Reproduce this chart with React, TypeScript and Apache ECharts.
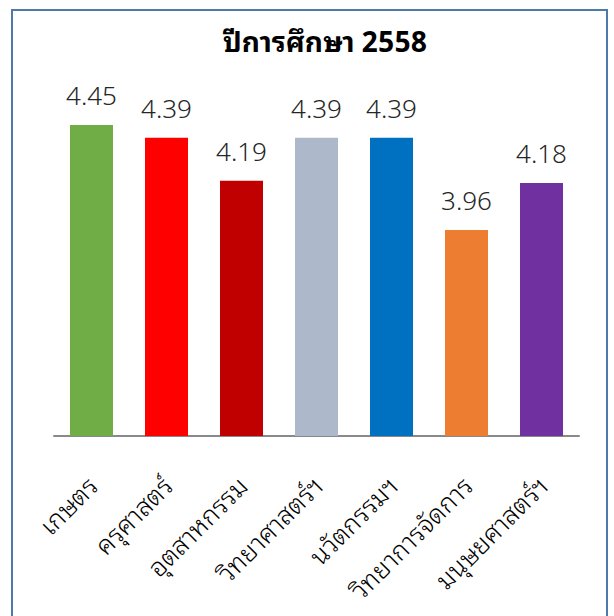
import React, { useEffect, useRef } from "react";
import * as echarts from "echarts";

const categories = [
  "เกษตร",
  "ครุศาสตร์",
  "อุตสาหกรรม",
  "วิทยาศาสตร์ฯ",
  "นวัตกรรมฯ",
  "วิทยาการจัดการ",
  "มนุษยศาสตร์ฯ",
];
const values = [4.45, 4.39, 4.19, 4.39, 4.39, 3.96, 4.18];
const barColors = ["#70ad47", "#ff0000", "#c00000", "#adb9ca", "#0070c0", "#ed7d31", "#7030a0"];
const titleText = "ปีการศึกษา 2558";

const THAI = "'Noto Sans Thai Looped', 'Noto Sans Thai', sans-serif";
const NUM = "'Noto Sans', 'Open Sans', sans-serif";

export default function App() {
  const ref = useRef<HTMLDivElement>(null);
  useEffect(() => {
    if (!ref.current) return;
    const chart = echarts.init(ref.current, undefined, { renderer: "svg" });
    chart.setOption({
      animation: false,
      backgroundColor: "#ffffff",
      graphic: [
        {
          type: "rect",
          shape: { x: 12, y: 10, width: 595, height: 640 },
          style: { fill: "none", stroke: "#4f79a8", lineWidth: 2 },
          silent: true,
        },
        {
          type: "text",
          x: 325,
          y: 39,
          style: {
            text: titleText,
            fill: "#000000",
            font: `bold 28px ${THAI}`,
            align: "center",
            verticalAlign: "middle",
          },
        },
      ],
      grid: { left: 54, right: 35, top: 7, bottom: 180, containLabel: false },
      xAxis: {
        type: "category",
        data: categories,
        axisLine: { show: true, lineStyle: { color: "#898989", width: 2 } },
        axisTick: { show: false },
        axisLabel: {
          rotate: 45,
          interval: 0,
          margin: 44,
          fontSize: 26,
          fontWeight: 300,
          color: "#000000",
          fontFamily: THAI,
        },
      },
      yAxis: {
        type: "value",
        min: 3,
        max: 5,
        show: false,
        splitLine: { show: false },
      },
      series: [
        {
          type: "bar",
          barWidth: 43,
          data: values.map((v, i) => ({ value: v, itemStyle: { color: barColors[i] } })),
          label: {
            show: true,
            position: "top",
            distance: 17,
            fontSize: 26,
            fontWeight: 300,
            color: "#262626",
            fontFamily: NUM,
            formatter: (p: any) => p.value.toFixed(2),
          },
        },
      ],
    });
    return () => chart.dispose();
  }, []);
  return (
    <div
      ref={ref}
      style={{ position: "absolute", left: 0, top: 0, width: 614, height: 616 }}
    />
  );
}
